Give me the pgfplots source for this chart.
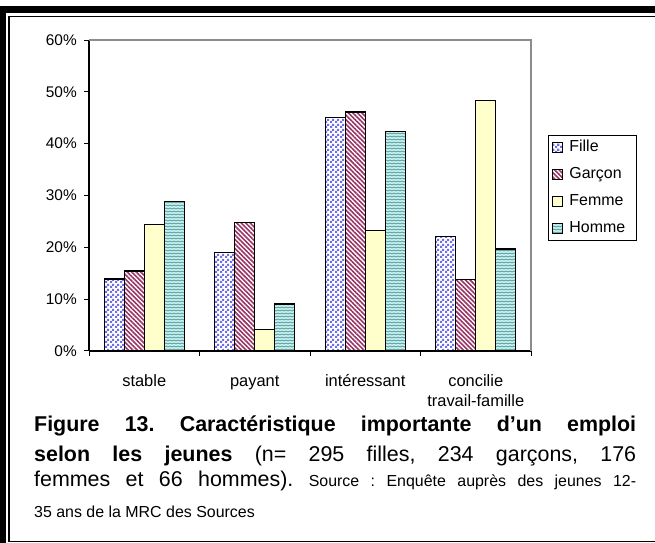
\documentclass[border=0pt]{standalone}
\usepackage{fontspec}
\setmainfont{Liberation Sans}
\usepackage{pgfplots}
\pgfplotsset{compat=1.18}
\usetikzlibrary{patterns,patterns.meta}
\definecolor{fillec}{HTML}{6E6EEA}
\definecolor{garconc}{HTML}{993366}
\definecolor{femmec}{HTML}{FFFFCC}
\definecolor{hommebg}{HTML}{C4F4F4}
\definecolor{hommefg}{HTML}{5F9595}
\definecolor{framegray}{HTML}{8C8C8C}
\pgfdeclarepatternformonly{mycheck}{\pgfpointorigin}{\pgfqpoint{5bp}{5bp}}{\pgfqpoint{5bp}{5bp}}{%
  \pgfpathrectangle{\pgfpointorigin}{\pgfqpoint{2.5bp}{2.5bp}}%
  \pgfpathrectangle{\pgfqpoint{2.5bp}{2.5bp}}{\pgfqpoint{2.5bp}{2.5bp}}%
  \pgfusepath{fill}}
\pgfdeclarepatternformonly{mywaves}{\pgfqpoint{-0.5bp}{-0.5bp}}{\pgfqpoint{4.5bp}{3.5bp}}{\pgfqpoint{4bp}{3bp}}{%
  \pgfsetlinewidth{0.7bp}%
  \pgfpathmoveto{\pgfqpoint{0bp}{1bp}}%
  \pgfpathlineto{\pgfqpoint{2bp}{2bp}}%
  \pgfpathlineto{\pgfqpoint{4bp}{1bp}}%
  \pgfusepath{stroke}}
\pgfplotstableread{
x fille garcon femme homme
0 13.9 15.4 24.4 28.8
1 19.0 24.8 4.1 9.1
2 45.1 46.1 23.3 42.4
3 22.1 13.8 48.3 19.7
}\datatable
\begin{document}
\frenchspacing
\begin{tikzpicture}
\useasboundingbox (0,0) rectangle (655bp,543bp);
% frame
\fill[black] (0,530bp) rectangle (655bp,537bp);
\fill[black] (0,0) rectangle (6bp,537bp);
\draw[black,line width=1.5bp] (9bp,1.3bp) -- (9bp,526.5bp) -- (656bp,526.5bp);
\draw[black,line width=1.5bp] (9bp,1.3bp) -- (656bp,1.3bp);
\begin{axis}[
  at={(89bp,192bp)}, anchor=south west,
  scale only axis, width=442bp, height=311bp,
  xmin=-0.5, xmax=3.5, ymin=0, ymax=60,
  axis lines=left, axis line style={-, black, line width=1.1bp},
  ybar=0pt, bar width=20bp,
  xtick={0,1,2,3},
  xticklabels={stable,payant,intéressant,{\begin{tabular}[t]{@{}c@{}}concilie\\travail-famille\end{tabular}}},
  minor xtick={-0.5,0.5,1.5,2.5,3.5},
  major x tick style={draw=none},
  minor x tick style={black, line width=1bp},
  minor tick length=5bp, major tick length=5bp,
  tick align=outside,
  ytick={0,10,20,30,40,50,60},
  yticklabels={0\%,10\%,20\%,30\%,40\%,50\%,60\%},
  y tick style={black, line width=1bp},
  xticklabel style={font=\fontsize{16.5}{20}\selectfont, anchor=base, yshift=-31bp},
  yticklabel style={font=\fontsize{15.5}{15.5}\selectfont, anchor=east, inner sep=0bp, xshift=-7bp},
  clip=false,
  every axis plot post/.append style={legend image code/.code={\draw[##1,line width=1bp] (0bp,-5bp) rectangle (10bp,5bp);}},
  legend style={at={(axis description cs:1.0385,0.6945)}, anchor=north west, draw=black, line width=0.8bp,
    font=\fontsize{16}{16}\selectfont, inner xsep=4bp, inner ysep=4.5bp, row sep=12bp,
    nodes={inner sep=0bp, text height=12bp, text depth=3bp, text width=63bp, align=left},
    /tikz/every odd column/.append style={column sep=6bp}},
  legend cell align=left,
]
\addplot[draw=black, line width=1.4bp, pattern=mycheck, pattern color=fillec] table[x=x,y=fille] {\datatable};
\addplot[draw=black, line width=1.4bp, pattern={Lines[angle=-45,distance=3.2bp,line width=1.6bp]}, pattern color=garconc] table[x=x,y=garcon] {\datatable};
\addplot[draw=black, line width=1.4bp, fill=femmec] table[x=x,y=femme] {\datatable};
\addplot[draw=black, line width=1.4bp, fill=hommebg, postaction={pattern=mywaves, pattern color=hommefg}] table[x=x,y=homme] {\datatable};
\legend{Fille,Garçon,Femme,Homme}
\draw[framegray, line width=1.3bp] (rel axis cs:0,1) -- (rel axis cs:1,1) -- (rel axis cs:1,0);
\end{axis}
\node[anchor=base west, inner sep=0] at (34bp,111.3bp) {\frenchspacing\fontsize{21.5}{24}\selectfont\makebox[602bp][s]{\bfseries Figure 13. Caractéristique importante d’un emploi}};
\node[anchor=base west, inner sep=0] at (34bp,81.3bp) {\frenchspacing\fontsize{21.5}{24}\selectfont\makebox[602bp][s]{\textbf{selon les jeunes} (n= 295 filles, 234 garçons, 176}};
\node[anchor=base west, inner sep=0] at (34bp,56.3bp) {\frenchspacing\fontsize{21.5}{24}\selectfont\makebox[602bp][s]{femmes et 66 hommes). {\fontsize{16}{19}\selectfont Source : Enquête auprès des jeunes 12-}}};
\node[anchor=base west, inner sep=0] at (34bp,26bp) {\frenchspacing\fontsize{16}{19}\selectfont 35 ans de la MRC des Sources};
\end{tikzpicture}
\end{document}
